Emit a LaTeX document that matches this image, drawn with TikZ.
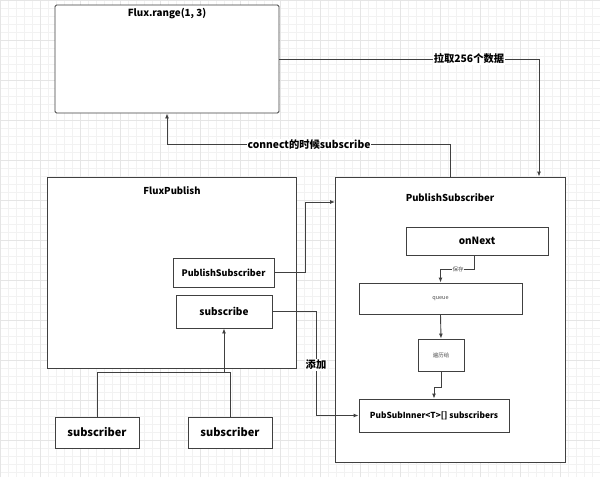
\documentclass[tikz,border=0pt]{standalone}
\usepackage{fontspec}
\setmainfont{Noto Sans CJK SC}
\usetikzlibrary{arrows.meta}

\tikzset{
  box/.style={draw=black!75, line width=0.9pt, fill=white, inner sep=0pt},
  conn/.style={draw=black!75, line width=0.9pt},
  arr/.style={conn, -{Latex[length=5pt,width=4pt]}},
  lbl/.style={fill=white, inner sep=1pt, font=\bfseries\fontsize{10.3}{11}\selectfont},
  tiny/.style={fill=white, inner sep=0.5pt, text=black!70, font=\fontsize{5.5}{6}\selectfont},
  bold/.style={font=\bfseries\fontsize{#1}{#1}\selectfont},
}

\begin{document}
\begin{tikzpicture}[x=1pt,y=-1pt]
\useasboundingbox (0,0) rectangle (600,477);
\fill[white] (0,0) rectangle (600,477);
%\draw[step=8pt,black!6,very thin] (0,0) grid (600,477);
\draw[step=8pt,black!5,very thin] (0,0) grid (600,477);
\draw[step=40pt,black!10,very thin] (0,0) grid (600,477);

% upstream
\node[box, rounded corners=1.5pt, minimum width=224pt, minimum height=108pt] (flux) at (167,59) {};
\node[bold=9.8] (fluxtitle) at (167,14) {Flux.range(1, 3)};

% FluxPublish
\node[box, minimum width=249pt, minimum height=191pt] (fluxpub) at (171.5,272.5) {};
\node[bold=9.5] (fluxpubtitle) at (172,191) {FluxPublish};
\node[box, minimum width=101pt, minimum height=29pt, bold=9] (pubsub) at (223.5,272.5) {PublishSubscriber};
\node[box, minimum width=96pt, minimum height=33pt, bold=10] (subscribe) at (224,311.5) {subscribe};

% subscribers
\node[box, minimum width=84pt, minimum height=31pt, bold=11] (sub1) at (97,432.5) {subscriber};
\node[box, minimum width=84pt, minimum height=31pt, bold=11] (sub2) at (230,432.5) {subscriber};

% PublishSubscriber
\node[box, minimum width=230pt, minimum height=285pt] (psbig) at (450,319.5) {};
\node[bold=9.5] (psbigtitle) at (450,198) {PublishSubscriber};
\node[box, minimum width=142pt, minimum height=28pt, bold=10] (onnext) at (477,241) {onNext};
\node[box, minimum width=163pt, minimum height=31pt, text=black!70, font=\fontsize{5.5}{6}\selectfont] (queue) at (440.5,298.5) {queue};
\node[box, minimum width=46pt, minimum height=32pt, text=black!70, font=\fontsize{5.5}{6}\selectfont] (iter) at (441,355) {遍历给};
\node[box, minimum width=150pt, minimum height=33pt, bold=8.3] (inner) at (434,415.5) {PubSubInner<T>[] subscribers};

% connectors
\coordinate (pullturn) at (539,59);
\draw[arr] (flux.east) -- (pullturn) -- (pullturn |- psbig.north);
\node[lbl] (pulllbl) at (469,59) {拉取256个数据};

\draw[arr] (psbig.north) -- ++(0,-32) -| (flux.south);
\node[lbl] (conlbl) at (309,145) {connect的时候subscribe};

\coordinate (psin) at (335,202);
\draw[arr] (pubsub.east) -- ++(31,0) |- (psin);

\draw[arr] (subscribe.east) -- ++(44,0) |- (inner.west);
\node[lbl] (addlbl) at (316,365) {添加};

\coordinate (join) at (224,372);
\draw[conn] (sub1.north) |- (join);
\draw[conn] (sub2.north) |- (join);
\draw[arr] (join) -- (subscribe.south);

\draw[arr] ([xshift=-3pt]onnext.south) -- ++(0,14) -| (queue.north);
\node[tiny] (savelbl) at (458,269) {保存};
\draw[arr] (queue.south) -- (iter.north);
\draw[arr] (iter.south) -- ++(0,16) -| (inner.north);

\end{tikzpicture}
\end{document}
